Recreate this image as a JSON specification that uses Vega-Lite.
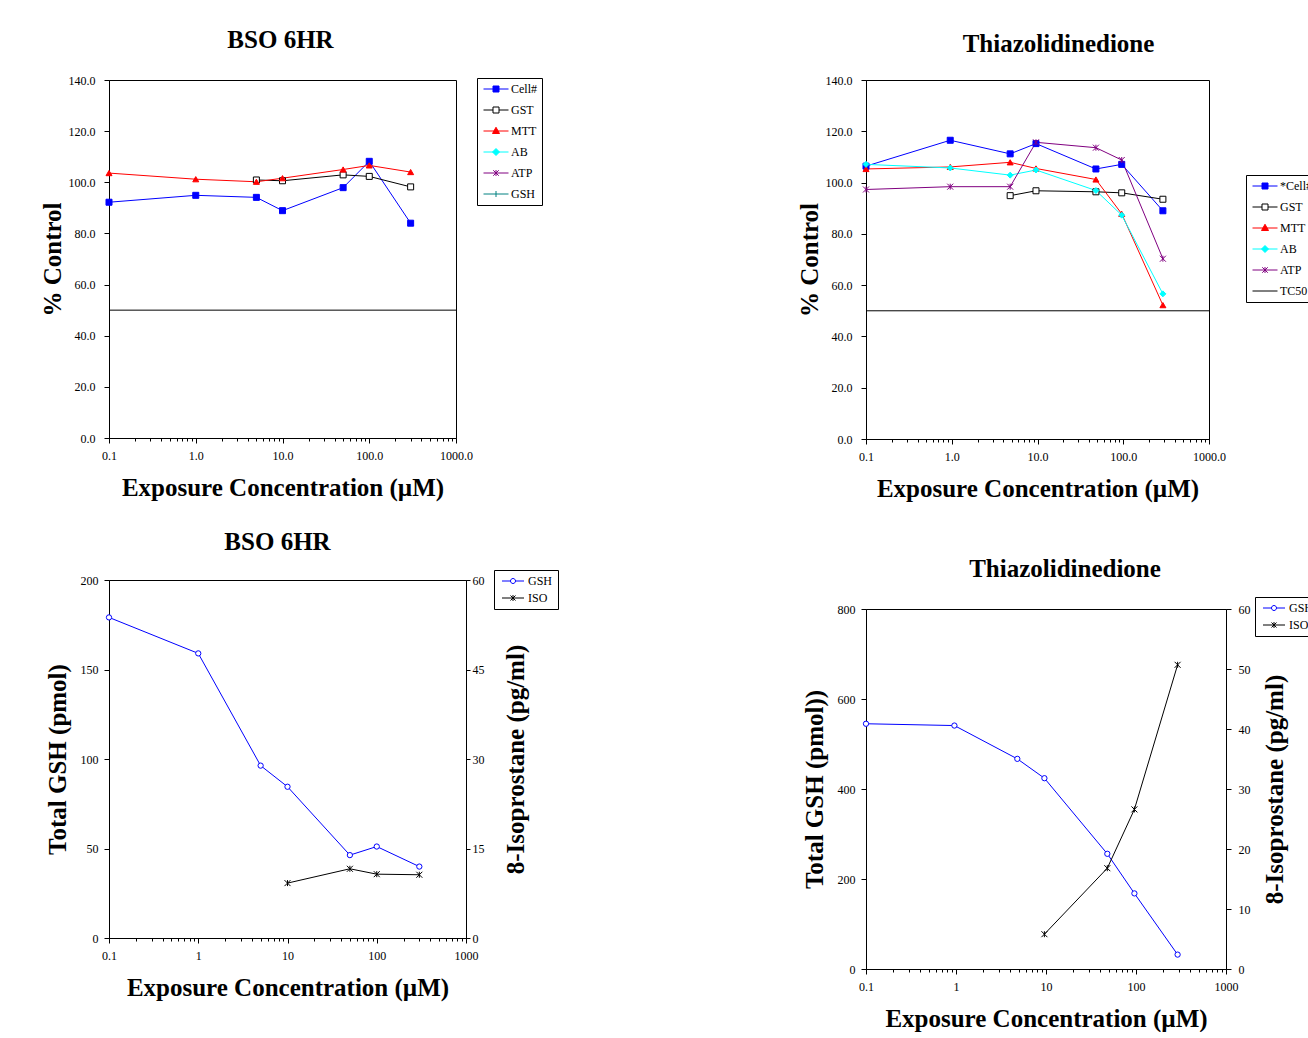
{
  "$schema": "https://vega.github.io/schema/vega-lite/v6.json",
  "padding": {"left": 39, "top": 27, "right": 0, "bottom": 0},
  "background": "white",
  "datasets": {
    "bso_pct": [
      {"conc": 0.1, "series": "Cell#", "value": 92.2},
      {"conc": 1, "series": "Cell#", "value": 94.9},
      {"conc": 5, "series": "Cell#", "value": 94.1},
      {"conc": 10, "series": "Cell#", "value": 88.9},
      {"conc": 50, "series": "Cell#", "value": 97.9},
      {"conc": 100, "series": "Cell#", "value": 108.2},
      {"conc": 300, "series": "Cell#", "value": 84.0},
      {"conc": 5, "series": "GST", "value": 100.9},
      {"conc": 10, "series": "GST", "value": 100.6},
      {"conc": 50, "series": "GST", "value": 102.9},
      {"conc": 100, "series": "GST", "value": 102.3},
      {"conc": 300, "series": "GST", "value": 98.2},
      {"conc": 0.1, "series": "MTT", "value": 103.6},
      {"conc": 1, "series": "MTT", "value": 101.2},
      {"conc": 5, "series": "MTT", "value": 100.2},
      {"conc": 10, "series": "MTT", "value": 101.6},
      {"conc": 50, "series": "MTT", "value": 105.0},
      {"conc": 100, "series": "MTT", "value": 106.6},
      {"conc": 300, "series": "MTT", "value": 104.0},
      {"conc": 0.1, "series": "TC50", "value": 50},
      {"conc": 1000, "series": "TC50", "value": 50}
    ],
    "tzd_pct": [
      {"conc": 0.1, "series": "Cell#", "value": 106.4},
      {"conc": 0.96, "series": "Cell#", "value": 116.5},
      {"conc": 4.8, "series": "Cell#", "value": 111.2},
      {"conc": 9.6, "series": "Cell#", "value": 115.2},
      {"conc": 48, "series": "Cell#", "value": 105.3},
      {"conc": 96, "series": "Cell#", "value": 107.1},
      {"conc": 290, "series": "Cell#", "value": 89.0},
      {"conc": 4.8, "series": "GST", "value": 94.9},
      {"conc": 9.6, "series": "GST", "value": 96.8},
      {"conc": 48, "series": "GST", "value": 96.4},
      {"conc": 96, "series": "GST", "value": 96.0},
      {"conc": 290, "series": "GST", "value": 93.5},
      {"conc": 0.1, "series": "MTT", "value": 105.3},
      {"conc": 0.96, "series": "MTT", "value": 106.1},
      {"conc": 4.8, "series": "MTT", "value": 107.9},
      {"conc": 9.6, "series": "MTT", "value": 105.5},
      {"conc": 48, "series": "MTT", "value": 101.2},
      {"conc": 96, "series": "MTT", "value": 87.8},
      {"conc": 290, "series": "MTT", "value": 52.2},
      {"conc": 0.1, "series": "AB", "value": 107.1},
      {"conc": 0.96, "series": "AB", "value": 105.7},
      {"conc": 4.8, "series": "AB", "value": 102.9},
      {"conc": 9.6, "series": "AB", "value": 104.9},
      {"conc": 48, "series": "AB", "value": 96.9},
      {"conc": 96, "series": "AB", "value": 87.3},
      {"conc": 290, "series": "AB", "value": 56.6},
      {"conc": 0.1, "series": "ATP", "value": 97.3},
      {"conc": 0.96, "series": "ATP", "value": 98.4},
      {"conc": 4.8, "series": "ATP", "value": 98.4},
      {"conc": 9.6, "series": "ATP", "value": 115.7},
      {"conc": 48, "series": "ATP", "value": 113.6},
      {"conc": 96, "series": "ATP", "value": 108.8},
      {"conc": 290, "series": "ATP", "value": 70.3},
      {"conc": 0.1, "series": "TC50", "value": 50},
      {"conc": 1000, "series": "TC50", "value": 50}
    ],
    "bso_gsh": [
      {"conc": 0.1, "series": "GSH", "value": 179.1},
      {"conc": 1, "series": "GSH", "value": 159.0},
      {"conc": 5, "series": "GSH", "value": 96.3},
      {"conc": 10, "series": "GSH", "value": 84.5},
      {"conc": 50, "series": "GSH", "value": 46.3},
      {"conc": 100, "series": "GSH", "value": 51.1},
      {"conc": 300, "series": "GSH", "value": 39.9}
    ],
    "bso_iso": [
      {"conc": 10, "series": "ISO", "value": 9.2},
      {"conc": 50, "series": "ISO", "value": 11.6},
      {"conc": 100, "series": "ISO", "value": 10.7},
      {"conc": 300, "series": "ISO", "value": 10.6}
    ],
    "tzd_gsh": [
      {"conc": 0.1, "series": "GSH", "value": 545},
      {"conc": 0.96, "series": "GSH", "value": 541},
      {"conc": 4.8, "series": "GSH", "value": 467},
      {"conc": 9.6, "series": "GSH", "value": 424},
      {"conc": 48, "series": "GSH", "value": 256},
      {"conc": 96, "series": "GSH", "value": 168},
      {"conc": 290, "series": "GSH", "value": 32}
    ],
    "tzd_iso": [
      {"conc": 9.6, "series": "ISO", "value": 5.8},
      {"conc": 48, "series": "ISO", "value": 16.8},
      {"conc": 96, "series": "ISO", "value": 26.6},
      {"conc": 290, "series": "ISO", "value": 50.7}
    ]
  },
  "config": {
    "font": "Liberation Serif",
    "view": {"stroke": "black", "strokeWidth": 1},
    "axis": {"labelFont": "Liberation Serif", "labelFontSize": 12, "labelColor": "black", "titleFont": "Liberation Serif", "titleFontSize": 25, "titleFontWeight": "bold", "titleColor": "black", "domainColor": "black", "tickColor": "black", "grid": false, "labelFlush": false, "labelOverlap": false, "tickSize": 5},
    "axisX": {"tickSize": {"expr": "abs(log(datum.value)/LN10 - round(log(datum.value)/LN10)) < 0.001 ? 5 : 3"}},
    "title": {"font": "Liberation Serif", "fontSize": 25, "fontWeight": "bold", "color": "black", "anchor": "middle", "frame": "group"},
    "legend": {"title": null, "labelFont": "Liberation Serif", "labelFontSize": 12, "labelColor": "black", "strokeColor": "black", "fillColor": "white", "padding": 5, "symbolSize": 100, "symbolStrokeWidth": 1, "symbolOpacity": 1, "symbolOffset": 8, "labelOffset": 9, "rowPadding": 9, "orient": "none"},
    "line": {"strokeWidth": 1}
  },
  "resolve": {"scale": {"x": "independent", "y": "independent", "stroke": "independent", "fill": "independent", "shape": "independent"}, "legend": {"stroke": "independent", "fill": "independent", "shape": "independent"}},
  "columns": 2,
  "align": "none",
  "spacing": {"row": 20, "column": 237},
  "concat": [
    {
      "spacing": 28,
      "resolve": {"scale": {"x": "independent", "y": "independent", "stroke": "independent", "fill": "independent", "shape": "independent"}, "legend": {"stroke": "independent", "fill": "independent", "shape": "independent"}},
      "vconcat": [
        {
          "width": 347, "height": 358,
          "title": {"text": "BSO 6HR", "dx": -2, "offset": 21},
          "data": {"name": "bso_pct"},
          "encoding": {
            "x": {"field": "conc", "type": "quantitative", "scale": {"type": "log", "domain": [0.1, 1000], "nice": false},
              "axis": {"title": "Exposure Concentration (µM)", "values": [0.1,0.2,0.3,0.4,0.5,0.6,0.7,0.8,0.9,1,2,3,4,5,6,7,8,9,10,20,30,40,50,60,70,80,90,100,200,300,400,500,600,700,800,900,1000],
                "labelExpr": "abs(log(datum.value)/LN10 - round(log(datum.value)/LN10)) < 0.001 ? format(datum.value, '.1f') : ''",
                "labelPadding": 7, "titlePadding": 14}},
            "y": {"field": "value", "type": "quantitative", "scale": {"domain": [0, 140], "nice": false},
              "axis": {"title": "% Control", "values": [0,20,40,60,80,100,120,140], "format": ".1f", "labelPadding": 9, "titlePadding": 3}}
          },
          "layer": [
            {"mark": {"type": "line", "strokeWidth": 1},
              "encoding": {"stroke": {"field": "series", "type": "nominal", "legend": null,
                "scale": {"domain": ["Cell#","GST","MTT","AB","ATP","GSH","TC50"], "range": ["#0000FF","#000000","#FF0000","#00FFFF","#800080","#008080","#000000"]}}}},
            {"transform": [{"filter": "datum.series !== 'TC50'"}],
              "mark": {"type": "point", "filled": true, "size": 36, "strokeWidth": 1, "opacity": 1},
              "encoding": {
                "stroke": {"field": "series", "type": "nominal", "legend": null,
                  "scale": {"domain": ["Cell#","GST","MTT","AB","ATP","GSH"], "range": ["#0000FF","#000000","#FF0000","#00FFFF","#800080","#008080"]}},
                "fill": {"field": "series", "type": "nominal", "legend": null,
                  "scale": {"domain": ["Cell#","GST","MTT","AB","ATP","GSH"], "range": ["#0000FF","#FFFFFF","#FF0000","#00FFFF","transparent","transparent"]}},
                "shape": {"field": "series", "type": "nominal", "legend": null,
                  "scale": {"domain": ["Cell#","GST","MTT","AB","ATP","GSH"], "range": ["square","square","triangle-up","diamond","M-1,-1L1,1M-1,1L1,-1M0,-1V1","M0,-1V1M-1,0H1"]}}
              }},
            {"transform": [{"filter": "datum.series !== 'TC50'"}],
              "mark": {"type": "point", "filled": true, "opacity": 0, "size": 100},
              "encoding": {
                "stroke": {"field": "series", "type": "nominal", "legend": {"legendX": 368, "legendY": -2},
                  "scale": {"domain": ["Cell#","GST","MTT","AB","ATP","GSH"], "range": ["#0000FF","#000000","#FF0000","#00FFFF","#800080","#008080"]}},
                "fill": {"field": "series", "type": "nominal", "legend": {"legendX": 368, "legendY": -2},
                  "scale": {"domain": ["Cell#","GST","MTT","AB","ATP","GSH"], "range": ["#0000FF","#FFFFFF","#FF0000","#00FFFF","transparent","transparent"]}},
                "shape": {"field": "series", "type": "nominal", "legend": {"legendX": 368, "legendY": -2},
                  "scale": {"domain": ["Cell#","GST","MTT","AB","ATP","GSH"], "range": ["M-2.5,0H2.5M-0.6,-0.6H0.6V0.6H-0.6Z","M-2.5,0H-0.6M0.6,0H2.5M-0.6,-0.6H0.6V0.6H-0.6Z","M-2.5,0H2.5M0,-0.75L0.7,0.5H-0.7Z","M-2.5,0H2.5M0,-0.7L0.7,0L0,0.7L-0.7,0Z","M-2.5,0H2.5M-0.55,-0.55L0.55,0.55M-0.55,0.55L0.55,-0.55M0,-0.6V0.6","M-2.5,0H2.5M0,-0.6V0.6"]}}
              }}
          ],
          "resolve": {"scale": {"stroke": "independent", "fill": "independent", "shape": "independent"}}
        },
        {
          "width": 357, "height": 358,
          "title": {"text": "BSO 6HR", "dx": -10, "offset": 15},
          "encoding": {
            "x": {"field": "conc", "type": "quantitative", "scale": {"type": "log", "domain": [0.1, 1000], "nice": false},
              "axis": {"title": "Exposure Concentration (µM)", "values": [0.1,0.2,0.3,0.4,0.5,0.6,0.7,0.8,0.9,1,2,3,4,5,6,7,8,9,10,20,30,40,50,60,70,80,90,100,200,300,400,500,600,700,800,900,1000],
                "labelExpr": "abs(log(datum.value)/LN10 - round(log(datum.value)/LN10)) < 0.001 ? format(datum.value, '~g') : ''",
                "labelPadding": 7, "titlePadding": 14}}
          },
          "layer": [
            {"data": {"name": "bso_gsh"},
              "encoding": {"y": {"field": "value", "type": "quantitative", "scale": {"domain": [0, 200], "nice": false},
                "axis": {"title": "Total GSH (pmol)", "orient": "left", "values": [0,50,100,150,200], "labelPadding": 6, "titlePadding": 10}}},
              "layer": [
                {"mark": {"type": "line", "strokeWidth": 1, "color": "#0000FF"}},
                {"mark": {"type": "point", "shape": "circle", "size": 28, "stroke": "#0000FF", "fill": "white", "filled": true, "strokeWidth": 1, "opacity": 1}},
                {"mark": {"type": "point", "filled": true, "opacity": 0, "size": 100},
                  "encoding": {
                    "stroke": {"field": "series", "type": "nominal", "legend": {"legendX": 385, "legendY": -10, "rowPadding": 5},
                      "scale": {"domain": ["GSH","ISO"], "range": ["#0000FF","#000000"]}},
                    "fill": {"field": "series", "type": "nominal", "legend": {"legendX": 385, "legendY": -10, "rowPadding": 5},
                      "scale": {"domain": ["GSH","ISO"], "range": ["#FFFFFF","transparent"]}},
                    "shape": {"field": "series", "type": "nominal", "legend": {"legendX": 385, "legendY": -10, "rowPadding": 5},
                      "scale": {"domain": ["GSH","ISO"], "range": ["M-2.2,0H-0.5M0.5,0H2.2M-0.5,0A0.5,0.5,0,1,0,0.5,0A0.5,0.5,0,1,0,-0.5,0Z","M-2.2,0H2.2M-0.5,-0.5L0.5,0.5M-0.5,0.5L0.5,-0.5M0,-0.6V0.6"]}}
                  }}
              ]},
            {"data": {"name": "bso_iso"},
              "encoding": {"y": {"field": "value", "type": "quantitative", "scale": {"domain": [0, 60], "nice": false},
                "axis": {"title": "8-Isoprostane (pg/ml)", "orient": "right", "values": [0,15,30,45,60], "titleAngle": 270, "titleBaseline": "top", "tickSize": 4, "labelPadding": 2, "titlePadding": 19}}},
              "layer": [
                {"mark": {"type": "line", "strokeWidth": 1, "color": "#000000"}},
                {"mark": {"type": "point", "shape": "M-1,-1L1,1M-1,1L1,-1M0,-1V1", "size": 36, "stroke": "#000000", "filled": false, "strokeWidth": 1, "opacity": 1}}
              ]}
          ],
          "resolve": {"scale": {"y": "independent"}}
        }
      ]
    },
    {
      "spacing": 54,
      "resolve": {"scale": {"x": "independent", "y": "independent", "stroke": "independent", "fill": "independent", "shape": "independent"}, "legend": {"stroke": "independent", "fill": "independent", "shape": "independent"}},
      "vconcat": [
        {
          "width": 343, "height": 359,
          "title": {"text": "Thiazolidinedione", "dx": 21, "offset": 17},
          "data": {"name": "tzd_pct"},
          "encoding": {
            "x": {"field": "conc", "type": "quantitative", "scale": {"type": "log", "domain": [0.1, 1000], "nice": false},
              "axis": {"title": "Exposure Concentration (µM)", "values": [0.1,0.2,0.3,0.4,0.5,0.6,0.7,0.8,0.9,1,2,3,4,5,6,7,8,9,10,20,30,40,50,60,70,80,90,100,200,300,400,500,600,700,800,900,1000],
                "labelExpr": "abs(log(datum.value)/LN10 - round(log(datum.value)/LN10)) < 0.001 ? format(datum.value, '.1f') : ''",
                "labelPadding": 7, "titlePadding": 14}},
            "y": {"field": "value", "type": "quantitative", "scale": {"domain": [0, 140], "nice": false},
              "axis": {"title": "% Control", "values": [0,20,40,60,80,100,120,140], "format": ".1f", "labelPadding": 9, "titlePadding": 3}}
          },
          "layer": [
            {"mark": {"type": "line", "strokeWidth": 1},
              "encoding": {"stroke": {"field": "series", "type": "nominal", "legend": null,
                "scale": {"domain": ["Cell#","GST","MTT","AB","ATP","TC50"], "range": ["#0000FF","#000000","#FF0000","#00FFFF","#800080","#000000"]}}}},
            {"transform": [{"filter": "datum.series !== 'TC50'"}],
              "mark": {"type": "point", "filled": true, "size": 36, "strokeWidth": 1, "opacity": 1},
              "encoding": {
                "stroke": {"field": "series", "type": "nominal", "legend": null,
                  "scale": {"domain": ["Cell#","GST","MTT","AB","ATP"], "range": ["#0000FF","#000000","#FF0000","#00FFFF","#800080"]}},
                "fill": {"field": "series", "type": "nominal", "legend": null,
                  "scale": {"domain": ["Cell#","GST","MTT","AB","ATP"], "range": ["#0000FF","#FFFFFF","#FF0000","#00FFFF","transparent"]}},
                "shape": {"field": "series", "type": "nominal", "legend": null,
                  "scale": {"domain": ["Cell#","GST","MTT","AB","ATP"], "range": ["square","square","triangle-up","diamond","M-1,-1L1,1M-1,1L1,-1M0,-1V1"]}}
              }},
            {"mark": {"type": "point", "filled": true, "opacity": 0, "size": 100},
              "encoding": {
                "stroke": {"field": "series", "type": "nominal", "legend": {"legendX": 380, "legendY": 95, "labelExpr": "datum.label === 'Cell#' ? '*Cell#' : datum.label"},
                  "scale": {"domain": ["Cell#","GST","MTT","AB","ATP","TC50"], "range": ["#0000FF","#000000","#FF0000","#00FFFF","#800080","#000000"]}},
                "fill": {"field": "series", "type": "nominal", "legend": {"legendX": 380, "legendY": 95, "labelExpr": "datum.label === 'Cell#' ? '*Cell#' : datum.label"},
                  "scale": {"domain": ["Cell#","GST","MTT","AB","ATP","TC50"], "range": ["#0000FF","#FFFFFF","#FF0000","#00FFFF","transparent","transparent"]}},
                "shape": {"field": "series", "type": "nominal", "legend": {"legendX": 380, "legendY": 95, "labelExpr": "datum.label === 'Cell#' ? '*Cell#' : datum.label"},
                  "scale": {"domain": ["Cell#","GST","MTT","AB","ATP","TC50"], "range": ["M-2.5,0H2.5M-0.6,-0.6H0.6V0.6H-0.6Z","M-2.5,0H-0.6M0.6,0H2.5M-0.6,-0.6H0.6V0.6H-0.6Z","M-2.5,0H2.5M0,-0.75L0.7,0.5H-0.7Z","M-2.5,0H2.5M0,-0.7L0.7,0L0,0.7L-0.7,0Z","M-2.5,0H2.5M-0.55,-0.55L0.55,0.55M-0.55,0.55L0.55,-0.55M0,-0.6V0.6","M-2.5,0H2.5"]}}
              }}
          ],
          "resolve": {"scale": {"stroke": "independent", "fill": "independent", "shape": "independent"}}
        },
        {
          "width": 360, "height": 360,
          "title": {"text": "Thiazolidinedione", "dx": 19, "offset": 15},
          "encoding": {
            "x": {"field": "conc", "type": "quantitative", "scale": {"type": "log", "domain": [0.1, 1000], "nice": false},
              "axis": {"title": "Exposure Concentration (µM)", "values": [0.1,0.2,0.3,0.4,0.5,0.6,0.7,0.8,0.9,1,2,3,4,5,6,7,8,9,10,20,30,40,50,60,70,80,90,100,200,300,400,500,600,700,800,900,1000],
                "labelExpr": "abs(log(datum.value)/LN10 - round(log(datum.value)/LN10)) < 0.001 ? format(datum.value, '~g') : ''",
                "labelPadding": 7, "titlePadding": 14}}
          },
          "layer": [
            {"data": {"name": "tzd_gsh"},
              "encoding": {"y": {"field": "value", "type": "quantitative", "scale": {"domain": [0, 800], "nice": false},
                "axis": {"title": "Total GSH (pmol))", "orient": "left", "values": [0,200,400,600,800], "labelPadding": 6, "titlePadding": 10}}},
              "layer": [
                {"mark": {"type": "line", "strokeWidth": 1, "color": "#0000FF"}},
                {"mark": {"type": "point", "shape": "circle", "size": 28, "stroke": "#0000FF", "fill": "white", "filled": true, "strokeWidth": 1, "opacity": 1}},
                {"mark": {"type": "point", "filled": true, "opacity": 0, "size": 100},
                  "encoding": {
                    "stroke": {"field": "series", "type": "nominal", "legend": {"legendX": 389, "legendY": -12, "rowPadding": 5},
                      "scale": {"domain": ["GSH","ISO"], "range": ["#0000FF","#000000"]}},
                    "fill": {"field": "series", "type": "nominal", "legend": {"legendX": 389, "legendY": -12, "rowPadding": 5},
                      "scale": {"domain": ["GSH","ISO"], "range": ["#FFFFFF","transparent"]}},
                    "shape": {"field": "series", "type": "nominal", "legend": {"legendX": 389, "legendY": -12, "rowPadding": 5},
                      "scale": {"domain": ["GSH","ISO"], "range": ["M-2.2,0H-0.5M0.5,0H2.2M-0.5,0A0.5,0.5,0,1,0,0.5,0A0.5,0.5,0,1,0,-0.5,0Z","M-2.2,0H2.2M-0.5,-0.5L0.5,0.5M-0.5,0.5L0.5,-0.5M0,-0.6V0.6"]}}
                  }}
              ]},
            {"data": {"name": "tzd_iso"},
              "encoding": {"y": {"field": "value", "type": "quantitative", "scale": {"domain": [0, 60], "nice": false},
                "axis": {"title": "8-Isoprostane (pg/ml)", "orient": "right", "values": [0,10,20,30,40,50,60], "titleAngle": 270, "titleBaseline": "top", "tickSize": 5, "labelPadding": 7, "titlePadding": 12}}},
              "layer": [
                {"mark": {"type": "line", "strokeWidth": 1, "color": "#000000"}},
                {"mark": {"type": "point", "shape": "M-1,-1L1,1M-1,1L1,-1M0,-1V1", "size": 36, "stroke": "#000000", "filled": false, "strokeWidth": 1, "opacity": 1}}
              ]}
          ],
          "resolve": {"scale": {"y": "independent"}}
        }
      ]
    }
  ]
}
